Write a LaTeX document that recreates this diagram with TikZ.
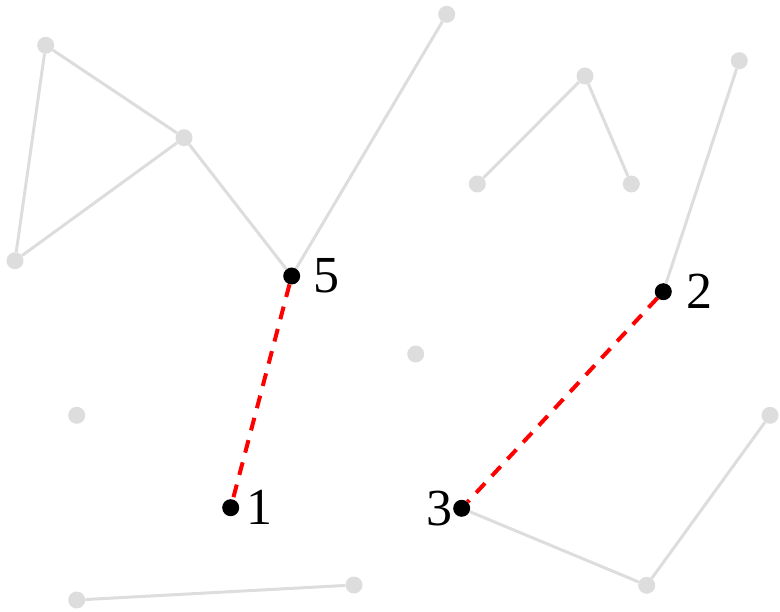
\documentclass[tikz,border=0pt]{standalone}
\usepackage{fontspec}
\setmainfont{Liberation Serif}
\usetikzlibrary{positioning}
\definecolor{lightgr}{HTML}{DDDDDD}

\begin{document}
\begin{tikzpicture}[x=1pt,y=-1pt,
    gdot/.style={circle,fill=lightgr,inner sep=0pt,minimum size=17pt},
    bdot/.style={circle,fill=black,inner sep=0pt,minimum size=17pt},
    gline/.style={draw=lightgr,line width=3pt},
    rline/.style={draw=red,line width=4pt,dash pattern=on 13pt off 10pt},
    lbl/.style={inner sep=0pt,font=\fontsize{52}{52}\selectfont}]
    \useasboundingbox (0,0) rectangle (780,612);

    \node[gdot] (a) at (45.7,45.3) {};
    \node[gdot] (b) at (184,137.7) {};
    \node[gdot] (c) at (15,260.7) {};
    \node[gdot] (d) at (446.7,14.3) {};
    \node[gdot] (e) at (585,76) {};
    \node[gdot] (f) at (477.3,184) {};
    \node[gdot] (g) at (631.3,184) {};
    \node[gdot] (h) at (739.3,60.7) {};
    \node[gdot] (i) at (415.7,354) {};
    \node[gdot] (j) at (76.7,415.3) {};
    \node[gdot] (k) at (770,415.3) {};
    \node[gdot] (l) at (646.7,585.3) {};
    \node[gdot] (m) at (76.7,600) {};
    \node[gdot] (n) at (354,585) {};

    \node[bdot] (n5) at (291.7,276) {};
    \node[bdot] (n2) at (663.3,291.7) {};
    \node[bdot] (n1) at (230.7,507.7) {};
    \node[bdot] (n3) at (461.7,508.3) {};

    \node[lbl,right=13pt of n5] (l5) {5};
    \node[lbl,right=14pt of n2] (l2) {2};
    \node[lbl,right=7pt of n1] (l1) {1};
    \node[lbl,left=0pt of n3] (l3) {3};

    \draw[gline] (a) -- (b);
    \draw[gline] (a) -- (c);
    \draw[gline] (c) -- (b);
    \draw[gline] (b) -- (n5);
    \draw[gline] (n5) -- (d);
    \draw[gline] (f) -- (e) -- (g);
    \draw[gline] (h) -- (n2);
    \draw[gline] (n3) -- (l) -- (k);
    \draw[gline] (m) -- (n);

    \draw[rline] (n5) -- (n1);
    \draw[rline] (n2) -- (n3);
\end{tikzpicture}
\end{document}
